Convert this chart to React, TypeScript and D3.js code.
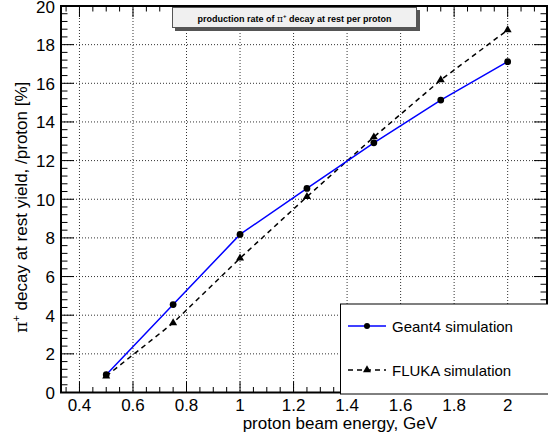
import React from "react";
import * as d3 from "d3";

const energies = [0.5, 0.75, 1.0, 1.25, 1.5, 1.75, 2.0];
const geant4 = [0.92, 4.55, 8.18, 10.56, 12.92, 15.13, 17.12];
const fluka = [0.85, 3.6, 6.95, 10.13, 13.22, 16.17, 18.76];
const xTicks = [0.4, 0.6, 0.8, 1.0, 1.2, 1.4, 1.6, 1.8, 2.0];
const yTicks = [0, 2, 4, 6, 8, 10, 12, 14, 16, 18, 20];

const W = 548, H = 433;
const L = 61, R = 547, T = 6, B = 392.5;
const font = "'Liberation Sans', Arial, Helvetica, sans-serif";

export default function App() {
  const x = d3.scaleLinear().domain([0.331, 2.147]).range([L, R]);
  const y = d3.scaleLinear().domain([0, 20]).range([B, T]);
  const line = d3.line<number>().x((_, i) => x(energies[i])).y((d) => y(d));
  const xMinor = d3.range(0.35, 2.15, 0.05).map((v) => +v.toFixed(2));
  const yMinor = d3.range(0, 20.01, 0.4).map((v) => +v.toFixed(2));
  const tri = d3.symbol().type(d3.symbolTriangle).size(28)();

  return (
    <svg width={W} height={H} style={{ position: "absolute", left: 0, top: 0, background: "#fff" }}>
      <rect x={0} y={0} width={W} height={H} fill="#fff" />
      {/* grid */}
      {xTicks.map((t) => (
        <line key={"gx" + t} x1={x(t)} x2={x(t)} y1={T} y2={B} stroke="#000" strokeWidth={1} strokeDasharray="1,2" opacity={0.8} />
      ))}
      {yTicks.slice(1, -1).map((t) => (
        <line key={"gy" + t} x1={L} x2={R} y1={y(t)} y2={y(t)} stroke="#000" strokeWidth={1} strokeDasharray="1,2" opacity={0.8} />
      ))}
      {/* ticks x */}
      {xMinor.map((t) => {
        const major = xTicks.some((m) => Math.abs(m - t) < 1e-6);
        const len = major ? 11 : 5.5;
        return (
          <g key={"xt" + t}>
            <line x1={x(t)} x2={x(t)} y1={B} y2={B - len} stroke="#000" strokeWidth={1} />
            <line x1={x(t)} x2={x(t)} y1={T} y2={T + len} stroke="#000" strokeWidth={1} />
          </g>
        );
      })}
      {yMinor.map((t) => {
        const major = yTicks.some((m) => Math.abs(m - t) < 1e-6);
        const len = major ? 13 : 6.5;
        return (
          <g key={"yt" + t}>
            <line x1={L} x2={L + len} y1={y(t)} y2={y(t)} stroke="#000" strokeWidth={1} />
            <line x1={R} x2={R - len} y1={y(t)} y2={y(t)} stroke="#000" strokeWidth={1} />
          </g>
        );
      })}
      {/* frame */}
      <rect x={L} y={T} width={R - L} height={B - T} fill="none" stroke="#000" strokeWidth={2} />
      {/* tick labels */}
      {xTicks.map((t) => (
        <text key={"xl" + t} x={x(t)} y={411} textAnchor="middle" fontFamily={font} fontSize={17} fill="#000">
          {d3.format("~g")(t)}
        </text>
      ))}
      {yTicks.map((t) => (
        <text key={"yl" + t} x={55} y={y(t) + 6.5} textAnchor="end" fontFamily={font} fontSize={17} fill="#000">
          {t}
        </text>
      ))}
      {/* axis titles */}
      <text x={437} y={429} textAnchor="end" fontFamily={font} fontSize={17} fill="#000">
        proton beam energy, GeV
      </text>
      <text transform={`translate(27,${(T + B) / 2 + 8}) rotate(-90)`} textAnchor="middle" fontFamily={font} fontSize={17} fill="#000">
        <tspan fontFamily="'DejaVu Serif', serif">π</tspan>
        <tspan dy={-7} fontSize={11}>+</tspan>
        <tspan dy={7}> decay at rest yield, /proton [%]</tspan>
      </text>
      {/* series */}
      <path d={line(fluka) || ""} fill="none" stroke="#000" strokeWidth={1.5} strokeDasharray="5,4" />
      <path d={line(geant4) || ""} fill="none" stroke="#0000ff" strokeWidth={1.5} />
      {geant4.map((v, i) => (
        <circle key={"g" + i} cx={x(energies[i])} cy={y(v)} r={3.4} fill="#000" />
      ))}
      {fluka.map((v, i) => (
        <path key={"f" + i} d={tri || ""} transform={`translate(${x(energies[i])},${y(v)})`} fill="#000" />
      ))}
      {/* title box */}
      <rect x={175} y={10} width={245} height={21} fill="#555" />
      <rect x={172.5} y={7.5} width={244} height={20} fill="#f0f0f0" stroke="#555" strokeWidth={1} />
      <text x={294.5} y={21.5} textAnchor="middle" fontFamily={font} fontSize={9} fontWeight="bold" fill="#000">
        production rate of <tspan fontFamily="'DejaVu Serif', serif" fontWeight="normal">π</tspan>
        <tspan dy={-3.5} fontSize={6}>+</tspan>
        <tspan dy={3.5}> decay at rest per proton</tspan>
      </text>
      {/* legend */}
      <rect x={340.5} y={304} width={210} height={90} fill="#fff" stroke="#000" strokeWidth={1} />
      <line x1={348} x2={386} y1={326} y2={326} stroke="#0000ff" strokeWidth={1.5} />
      <circle cx={367} cy={326} r={3} fill="#000" />
      <text x={392} y={332} fontFamily={font} fontSize={15} fill="#000">Geant4 simulation</text>
      <line x1={348} x2={386} y1={370} y2={370} stroke="#000" strokeWidth={1.5} strokeDasharray="5,4" />
      <path d={tri || ""} transform={`translate(367,370)`} fill="#000" />
      <text x={392} y={376} fontFamily={font} fontSize={15} fill="#000">FLUKA simulation</text>
    </svg>
  );
}
